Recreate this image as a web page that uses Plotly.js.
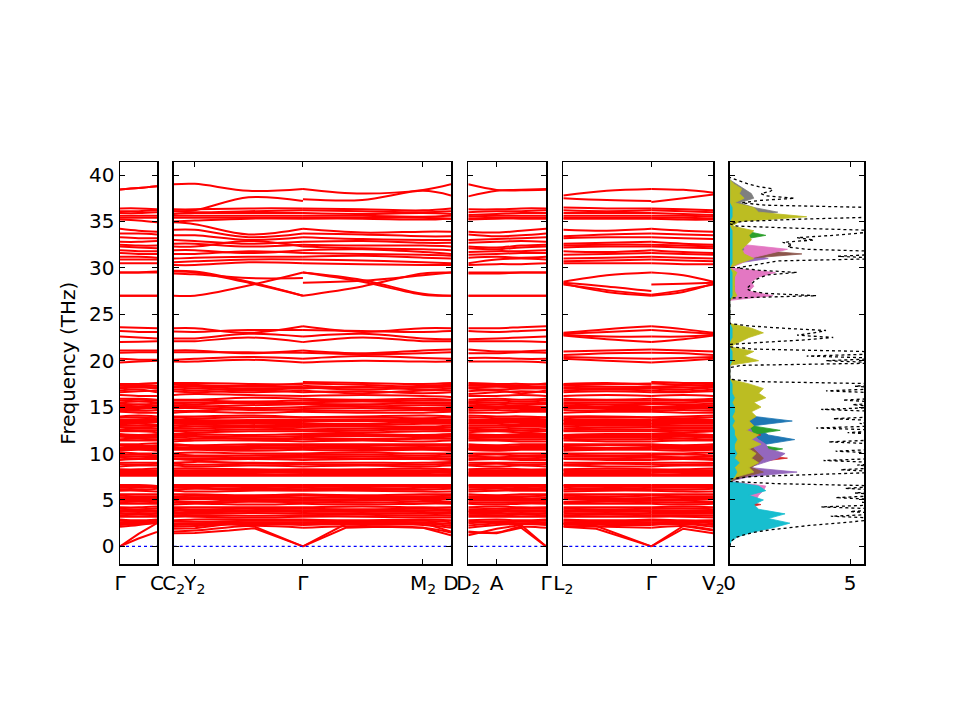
<!DOCTYPE html>
<html><head><meta charset="utf-8">
<script src="https://cdn.plot.ly/plotly-3.0.1.min.js"></script>
<style>html,body{margin:0;padding:0;background:#fff}</style>
</head><body><div id="chart" style="width:960px;height:720px"></div>
<script>
// k-path sample points (normalised path distance within each panel)
const kGC = [0, 0.5, 1];
const kCG = [0, 0.076, 0.27, 0.466];
const kGD = [0.466, 0.68, 0.899, 1];
const kDG = [0, 0.365, 0.68, 1];
const kLG = [0, 0.29, 0.587];
const kGV = [0.587, 0.8, 1];

// tick positions / labels of high-symmetry points
const ticksP1 = [0, 1], labelsP1 = ['Γ', 'C'];
const ticksP2 = [0, 0.076, 0.466, 0.899, 1], labelsP2 = ['C<sub>2</sub>', 'Y<sub>2</sub>', 'Γ', 'M<sub>2</sub>', 'D'];
const ticksP3 = [0, 0.365, 1], labelsP3 = ['D<sub>2</sub>', 'A', 'Γ'];
const ticksP4 = [0, 0.587, 1], labelsP4 = ['L<sub>2</sub>', 'Γ', 'V<sub>2</sub>'];
const freqTicks = [0, 5, 10, 15, 20, 25, 30, 35, 40];
const dosTicks = [0, 5];
const zeroLevel = 0;

// each band row: [Γ,m,C | C2,Y2,m,Γ | Γ,m,M2,D | D2,A,m,Γ | L2,m,Γ | Γ,m,V2]  (THz)
const bandsTop = [
 [38.45,38.6,38.8, 39.0,39.05,38.3,38.5, 38.5,38.0,38.4,39.0, 39.0,38.4,38.35,38.4, 37.8,38.3,38.5, 38.5,38.4,38.1],
 [38.45,38.6,38.8, 36.1,36.2,37.6,37.2, 37.4,37.3,38.3,37.8, 37.7,38.3,38.4,38.5, 37.5,37.3,37.2, 37.1,37.5,37.9]
];
const bands35 = [
 [36.4,36.4,36.3, 36.3,36.3,36.4,36.4, 36.4,36.3,36.2,36.4, 36.3,36.3,36.4,36.4, 36.5,36.4,36.4, 36.4,36.3,36.2],
 [36.1,36.1,36.2, 36.1,36.0,36.1,36.2, 36.2,36.1,36.0,36.1, 36.0,36.1,36.1,36.2, 36.2,36.1,36.2, 36.2,36.1,36.0],
 [35.9,35.9,36.0, 35.8,35.9,35.9,35.9, 35.9,35.8,35.9,35.8, 35.7,35.8,35.9,35.9, 35.9,35.9,35.9, 35.9,35.8,35.7],
 [35.6,35.6,35.6, 35.6,35.6,35.6,35.6, 35.6,35.6,35.5,35.6, 35.5,35.6,35.6,35.6, 35.6,35.6,35.6, 35.6,35.6,35.5],
 [35.4,35.4,35.4, 35.4,35.4,35.4,35.4, 35.4,35.4,35.4,35.3, 35.3,35.4,35.4,35.4, 35.4,35.4,35.4, 35.4,35.4,35.3],
 [35.2,35.1,34.9, 35.0,35.1,35.3,35.3, 35.3,35.3,35.2,35.3, 35.2,35.3,35.3,35.3, 35.3,35.3,35.3, 35.3,35.2,35.2]
];
const bands30 = [
 [34.2,34.0,33.9, 34.9,34.7,33.6,34.2, 34.2,33.8,33.9,33.9, 33.9,33.8,34.0,34.2, 34.1,34.0,34.2, 34.2,34.0,33.9],
 [33.7,33.7,33.6, 34.1,34.1,33.3,33.7, 33.7,33.6,33.4,33.4, 33.6,33.4,33.5,33.7, 33.4,33.6,33.7, 33.7,33.6,33.5],
 [33.3,33.2,33.2, 33.5,33.5,33.0,33.3, 33.3,33.1,33.0,33.0, 33.0,33.1,33.2,33.3, 33.2,33.3,33.3, 33.3,33.2,33.1],
 [32.8,32.8,32.9, 33.0,32.9,32.6,32.8, 32.8,32.9,32.7,32.7, 32.7,32.8,32.9,32.8, 32.6,32.7,32.8, 32.8,32.6,32.5],
 [32.5,32.4,32.4, 32.6,32.6,32.3,32.5, 32.5,32.4,32.4,32.3, 32.3,32.2,32.4,32.5, 32.4,32.5,32.5, 32.5,32.4,32.3],
 [32.3,32.2,32.1, 32.3,32.3,32.9,32.3, 32.3,32.1,32.0,31.9, 32.1,32.0,32.2,32.3, 32.2,32.3,32.3, 32.3,32.2,32.1],
 [31.9,31.8,31.8, 31.9,31.9,31.6,31.9, 31.9,32.0,31.7,31.5, 31.7,31.8,31.8,31.9, 31.8,31.7,31.9, 31.9,31.7,31.6],
 [31.6,31.5,31.5, 31.5,31.5,31.8,31.6, 31.6,31.5,31.4,31.3, 31.4,31.5,31.6,31.6, 31.4,31.5,31.6, 31.6,31.5,31.4],
 [31.2,31.2,31.1, 31.0,31.1,31.2,31.2, 31.2,31.3,31.1,31.0, 31.1,31.2,31.1,31.2, 31.0,31.1,31.2, 31.2,31.1,31.0],
 [30.9,30.9,30.9, 30.6,30.7,30.9,30.9, 30.9,30.8,30.6,30.5, 30.5,30.9,31.0,30.9, 30.7,30.8,30.9, 30.9,30.8,30.7],
 [30.5,30.5,30.5, 30.3,30.3,30.6,30.5, 30.5,30.4,30.3,30.3, 30.3,30.4,30.4,30.5, 30.5,30.5,30.5, 30.5,30.4,30.4]
];
const bands27 = [
 [29.5,29.5,29.5, 29.7,29.6,28.5,27.0, 27.0,28.0,29.4,29.5, 29.5,29.5,29.5,29.5, 28.5,29.2,29.5, 29.5,29.2,28.5],
 [29.5,29.5,29.6, 27.0,27.0,28.1,29.5, 29.5,28.5,27.1,27.0, 29.4,29.4,29.5,29.5, 28.3,27.4,27.0, 27.0,27.4,28.3],
 [27.0,27.0,27.0, 29.4,29.3,28.9,28.9, 28.4,28.6,29.2,29.5, 27.0,27.0,27.0,27.0, 28.4,28.0,27.5, 28.2,28.3,28.4],
 [27.0,27.0,27.0, 29.6,29.5,28.4,27.0, 29.5,28.7,27.2,27.0, 27.0,27.0,27.0,27.0, 28.2,27.6,27.1, 27.1,27.6,28.2]
];
const bands22 = [
 [23.6,23.55,23.5, 23.5,23.5,23.0,23.7, 23.7,23.1,23.5,23.5, 23.5,23.5,23.6,23.7, 23.0,23.4,23.7, 23.7,23.4,23.0],
 [23.2,23.1,23.1, 23.15,23.1,23.3,23.3, 23.3,23.2,23.1,23.2, 23.2,23.1,23.2,23.3, 22.9,23.1,23.3, 23.3,23.1,22.9],
 [22.6,22.5,22.4, 22.4,22.4,22.9,22.6, 22.6,22.9,22.4,22.3, 22.3,22.4,22.5,22.6, 22.8,22.6,22.6, 22.6,22.6,22.8],
 [22.0,22.05,22.1, 22.1,22.1,22.5,22.0, 22.0,22.5,22.1,22.1, 22.1,22.1,22.1,22.0, 22.7,22.3,22.0, 22.0,22.3,22.7]
];
const bands20 = [
 [21.1,21.1,21.1, 21.1,21.1,20.8,21.1, 21.1,20.8,21.1,21.2, 21.2,21.0,21.0,21.1, 21.0,21.1,21.2, 21.2,21.1,21.0],
 [20.85,20.9,20.9, 20.9,20.9,20.9,20.85, 20.85,20.7,20.8,20.9, 20.8,20.8,20.9,20.85, 20.6,20.8,20.85, 20.85,20.8,20.6],
 [20.2,20.1,20.1, 20.1,20.2,20.4,20.2, 20.2,20.5,20.3,20.2, 20.3,20.3,20.2,20.2, 20.4,20.3,20.2, 20.2,20.3,20.4],
 [19.8,19.9,20.0, 19.9,19.9,20.1,19.8, 19.8,20.0,19.9,19.9, 19.9,19.9,19.9,19.8, 20.2,20.0,19.8, 19.8,20.0,20.2]
];
const bandsMid = [
 [17.5,17.5,17.6, 17.6,17.6,17.5,17.4, 17.7,17.6,17.5,17.6, 17.6,17.5,17.5,17.4, 17.5,17.6,17.4, 17.7,17.6,17.6],
 [17.3,17.3,17.3, 17.4,17.3,17.2,17.2, 17.3,17.1,17.3,17.4, 17.3,17.3,17.2,17.2, 17.3,17.2,17.2, 17.2,17.3,17.4],
 [17.0,17.1,17.0, 17.1,17.0,16.9,17.0, 17.0,17.2,16.9,17.0, 17.0,16.9,17.0,17.0, 17.0,17.0,17.0, 17.0,16.9,17.1],
 [16.6,16.7,16.8, 16.7,16.6,16.8,16.6, 16.6,16.7,16.5,16.6, 16.4,16.6,16.7,16.6, 16.6,16.7,16.6, 16.6,16.6,16.7],
 [16.3,16.2,16.2, 16.3,16.4,16.3,16.2, 16.2,16.3,16.2,16.1, 16.2,16.2,16.3,16.2, 16.2,16.3,16.2, 16.2,16.3,16.2],
 [15.9,15.9,15.8, 15.8,15.8,16.0,15.9, 15.9,15.8,15.9,15.8, 15.8,15.9,15.8,15.9, 15.9,15.8,15.9, 15.9,15.8,15.9],
 [15.5,15.6,15.5, 15.5,15.5,15.4,15.5, 15.5,15.6,15.5,15.5, 15.5,15.5,15.4,15.5, 15.5,15.5,15.5, 15.5,15.5,15.6],
 [15.2,15.1,15.2, 15.2,15.1,15.2,15.3, 15.3,15.1,15.2,15.2, 15.2,15.1,15.2,15.3, 15.2,15.1,15.3, 15.3,15.2,15.2],
 [14.8,14.8,14.9, 14.9,14.9,14.7,14.8, 14.8,14.9,14.8,14.8, 14.8,14.9,14.8,14.8, 14.9,14.8,14.8, 14.8,14.9,14.8],
 [14.5,14.4,14.4, 14.4,14.5,14.4,14.5, 14.5,14.4,14.4,14.5, 14.4,14.4,14.5,14.5, 14.4,14.5,14.5, 14.5,14.4,14.4],
 [14.0,14.1,14.0, 14.0,14.0,14.1,13.9, 13.9,14.0,14.1,14.0, 14.1,14.0,14.0,13.9, 14.0,14.0,13.9, 13.9,14.0,14.1],
 [13.6,13.7,13.7, 13.7,13.6,13.6,13.6, 13.6,13.7,13.6,13.7, 13.7,13.6,13.7,13.6, 13.6,13.7,13.6, 13.6,13.7,13.6],
 [13.3,13.3,13.4, 13.4,13.4,13.3,13.3, 13.3,13.2,13.4,13.3, 13.3,13.4,13.3,13.3, 13.3,13.3,13.3, 13.3,13.3,13.4],
 [13.0,13.0,13.0, 13.0,13.1,13.0,13.0, 13.0,13.0,12.9,13.0, 13.0,13.0,13.0,13.0, 13.1,13.0,13.0, 13.0,13.0,13.0],
 [12.6,12.7,12.7, 12.7,12.7,12.8,12.6, 12.6,12.7,12.7,12.6, 12.7,12.6,12.7,12.6, 12.7,12.6,12.6, 12.6,12.7,12.7],
 [12.4,12.4,12.3, 12.4,12.3,12.4,12.4, 12.4,12.3,12.4,12.4, 12.3,12.4,12.3,12.4, 12.4,12.4,12.4, 12.4,12.3,12.4],
 [12.1,12.0,12.1, 12.1,12.1,12.0,12.1, 12.1,12.1,12.0,12.1, 12.1,12.0,12.1,12.1, 12.0,12.1,12.1, 12.1,12.1,12.0],
 [11.8,11.7,11.7, 11.7,11.8,11.6,11.7, 11.7,11.6,11.7,11.8, 11.7,11.7,11.7,11.7, 11.7,11.7,11.7, 11.7,11.8,11.7],
 [11.4,11.4,11.4, 11.3,11.4,11.4,11.3, 11.3,11.4,11.3,11.4, 11.4,11.4,11.3,11.3, 11.4,11.3,11.3, 11.3,11.4,11.4],
 [11.0,11.0,11.1, 11.0,10.9,11.0,11.0, 11.0,11.0,11.0,11.0, 11.0,10.9,11.0,11.0, 11.0,11.0,11.0, 11.0,10.9,11.0],
 [10.6,10.7,10.7, 10.7,10.6,10.6,10.7, 10.7,10.6,10.7,10.6, 10.6,10.7,10.7,10.7, 10.7,10.6,10.7, 10.7,10.7,10.6],
 [10.3,10.4,10.3, 10.4,10.4,10.3,10.4, 10.4,10.3,10.4,10.3, 10.4,10.3,10.4,10.4, 10.3,10.4,10.4, 10.4,10.3,10.4],
 [10.1,10.0,10.0, 10.0,10.1,10.0,10.0, 10.0,10.1,10.0,10.0, 10.0,10.0,10.0,10.0, 10.0,10.0,10.0, 10.0,10.0,10.1],
 [9.7,9.7,9.7, 9.7,9.7,9.6,9.7, 9.7,9.7,9.6,9.7, 9.7,9.6,9.7,9.7, 9.7,9.7,9.7, 9.7,9.6,9.7],
 [9.3,9.4,9.4, 9.4,9.3,9.4,9.3, 9.3,9.4,9.4,9.3, 9.3,9.4,9.3,9.3, 9.4,9.3,9.3, 9.3,9.4,9.3],
 [9.0,9.0,9.0, 9.0,9.1,9.0,9.0, 9.0,9.0,9.0,9.1, 9.0,9.0,9.0,9.0, 9.0,9.0,9.0, 9.0,9.0,9.0],
 [8.6,8.7,8.7, 8.7,8.6,8.7,8.6, 8.6,8.7,8.6,8.7, 8.7,8.6,8.7,8.6, 8.7,8.6,8.6, 8.6,8.7,8.7],
 [8.3,8.3,8.4, 8.4,8.4,8.3,8.3, 8.3,8.3,8.4,8.3, 8.3,8.4,8.3,8.3, 8.3,8.4,8.3, 8.3,8.3,8.4],
 [8.1,8.0,8.1, 8.1,8.0,8.1,8.1, 8.1,8.0,8.1,8.0, 8.0,8.1,8.0,8.1, 8.1,8.0,8.1, 8.1,8.0,8.1],
 [7.8,7.8,7.8, 7.8,7.8,7.7,7.8, 7.8,7.8,7.7,7.8, 7.8,7.7,7.8,7.8, 7.8,7.8,7.8, 7.8,7.7,7.8],
 [7.6,7.6,7.6, 7.6,7.6,7.6,7.6, 7.6,7.6,7.6,7.6, 7.6,7.6,7.6,7.6, 7.6,7.6,7.6, 7.6,7.6,7.6]
];
const bandsMidExtra = [
 [17.45,17.4,17.3, 17.5,17.4,17.3,17.55, 17.55,17.4,17.2,17.3, 17.4,17.4,17.35,17.55, 17.4,17.45,17.55, 17.55,17.4,17.3],
 [17.15,17.2,17.1, 17.2,17.2,17.0,17.1, 17.1,16.9,17.1,17.2, 17.1,17.2,17.1,17.1, 17.1,17.0,17.1, 17.1,17.1,17.2],
 [16.8,16.9,16.6, 16.9,16.8,16.6,16.8, 16.8,16.5,16.8,16.8, 16.7,16.8,16.5,16.8, 16.8,16.9,16.8, 16.8,16.7,16.9],
 [15.7,15.8,15.7, 15.7,15.7,15.6,15.7, 15.7,15.7,15.7,15.7, 15.6,15.7,15.6,15.7, 15.7,15.7,15.7, 15.7,15.7,15.7],
 [15.35,15.3,15.4, 15.35,15.3,15.5,15.35, 15.35,15.3,15.4,15.35, 15.4,15.3,15.4,15.35, 15.35,15.3,15.35, 15.35,15.3,15.4],
 [15.0,15.0,15.0, 15.0,15.1,14.9,15.0, 15.0,15.1,14.9,15.0, 15.0,15.0,15.0,15.0, 15.0,15.0,15.0, 15.0,15.0,15.0],
 [14.65,14.6,14.7, 14.6,14.6,14.8,14.65, 14.65,14.6,14.7,14.6, 14.6,14.7,14.6,14.65, 14.7,14.6,14.65, 14.65,14.7,14.6],
 [13.85,13.9,13.8, 13.9,13.8,13.9,13.85, 13.85,13.9,13.8,13.9, 13.9,13.8,13.8,13.85, 13.8,13.9,13.85, 13.85,13.8,13.9],
 [13.5,13.5,13.5, 13.5,13.5,13.4,13.5, 13.5,13.5,13.5,13.5, 13.5,13.5,13.5,13.5, 13.5,13.5,13.5, 13.5,13.5,13.5],
 [13.15,13.2,13.1, 13.2,13.2,13.2,13.15, 13.15,13.1,13.2,13.2, 13.2,13.2,13.1,13.15, 13.2,13.1,13.15, 13.15,13.2,13.2],
 [12.85,12.8,12.9, 12.8,12.9,12.9,12.85, 12.85,12.9,12.8,12.8, 12.8,12.8,12.9,12.85, 12.9,12.8,12.85, 12.85,12.8,12.8],
 [12.55,12.5,12.5, 12.5,12.5,12.6,12.55, 12.55,12.5,12.6,12.5, 12.5,12.5,12.5,12.55, 12.5,12.6,12.55, 12.55,12.5,12.5],
 [11.9,11.9,11.9, 11.9,11.9,11.8,11.9, 11.9,11.9,11.9,11.9, 11.9,11.9,11.9,11.9, 11.9,11.9,11.9, 11.9,11.9,11.9],
 [11.55,11.6,11.5, 11.5,11.6,11.6,11.55, 11.55,11.5,11.6,11.6, 11.6,11.5,11.5,11.55, 11.6,11.5,11.55, 11.55,11.6,11.5],
 [10.85,10.8,10.9, 10.9,10.8,10.8,10.85, 10.85,10.8,10.9,10.8, 10.8,10.8,10.8,10.85, 10.8,10.9,10.85, 10.85,10.8,10.8],
 [10.5,10.5,10.5, 10.5,10.5,10.5,10.55, 10.55,10.5,10.5,10.5, 10.5,10.5,10.5,10.55, 10.5,10.5,10.55, 10.55,10.5,10.5],
 [9.85,9.9,9.8, 9.9,9.8,9.8,9.85, 9.85,9.9,9.8,9.9, 9.8,9.9,9.8,9.85, 9.9,9.8,9.85, 9.85,9.9,9.8],
 [9.55,9.5,9.6, 9.5,9.5,9.5,9.55, 9.55,9.5,9.5,9.5, 9.5,9.5,9.5,9.55, 9.5,9.5,9.55, 9.55,9.5,9.5],
 [8.85,8.8,8.9, 8.9,8.8,8.9,8.85, 8.85,8.8,8.8,8.9, 8.8,8.9,8.8,8.85, 8.8,8.9,8.85, 8.85,8.8,8.9],
 [8.2,8.2,8.2, 8.2,8.2,8.2,8.2, 8.2,8.2,8.2,8.2, 8.2,8.2,8.2,8.2, 8.2,8.2,8.2, 8.2,8.2,8.2],
 [7.95,7.9,7.9, 7.95,7.9,7.9,7.95, 7.95,7.9,7.9,7.95, 7.9,7.9,7.9,7.95, 7.9,7.9,7.95, 7.95,7.9,7.9],
 [7.7,7.7,7.7, 7.7,7.7,7.7,7.7, 7.7,7.7,7.7,7.7, 7.7,7.7,7.7,7.7, 7.7,7.7,7.7, 7.7,7.7,7.7]
];
const bandsLow = [
 [6.6,6.6,6.5, 6.6,6.6,6.6,6.6, 6.6,6.6,6.6,6.6, 6.6,6.6,6.6,6.6, 6.6,6.6,6.6, 6.6,6.6,6.6],
 [6.3,6.3,6.4, 6.3,6.3,6.2,6.3, 6.3,6.2,6.3,6.4, 6.3,6.3,6.2,6.3, 6.3,6.2,6.3, 6.3,6.3,6.3],
 [6.0,6.0,5.9, 6.0,5.9,6.0,6.0, 6.0,6.0,5.9,5.9, 5.9,6.0,6.0,6.0, 5.9,6.0,6.0, 6.0,5.9,5.9],
 [5.6,5.6,5.6, 5.6,5.6,5.5,5.6, 5.6,5.5,5.6,5.6, 5.6,5.5,5.6,5.6, 5.6,5.6,5.6, 5.6,5.6,5.6],
 [5.3,5.2,5.3, 5.3,5.3,5.3,5.2, 5.2,5.3,5.2,5.3, 5.3,5.3,5.2,5.2, 5.3,5.2,5.2, 5.2,5.3,5.3],
 [4.9,5.0,4.9, 4.9,4.8,5.0,4.9, 4.9,4.9,5.0,4.8, 4.9,4.9,4.9,4.9, 4.8,4.9,4.9, 4.9,4.9,4.8],
 [4.6,4.6,4.6, 4.5,4.6,4.5,4.6, 4.6,4.5,4.6,4.6, 4.6,4.5,4.6,4.6, 4.6,4.6,4.6, 4.6,4.5,4.6],
 [4.2,4.2,4.3, 4.2,4.2,4.2,4.2, 4.2,4.3,4.2,4.2, 4.2,4.3,4.2,4.2, 4.2,4.2,4.2, 4.2,4.3,4.2],
 [3.9,3.9,3.9, 3.9,3.8,3.9,3.9, 3.9,3.8,3.9,3.8, 3.8,3.9,3.9,3.9, 3.9,3.8,3.9, 3.9,3.9,3.9],
 [3.5,3.6,3.5, 3.5,3.5,3.6,3.5, 3.5,3.6,3.5,3.5, 3.5,3.5,3.6,3.5, 3.5,3.6,3.5, 3.5,3.5,3.5],
 [3.2,3.2,3.2, 3.2,3.2,3.1,3.2, 3.2,3.2,3.1,3.1, 3.2,3.2,3.2,3.2, 3.2,3.2,3.2, 3.2,3.2,3.1],
 [2.9,2.8,2.9, 2.8,2.9,2.9,2.9, 2.9,2.8,2.9,2.8, 2.8,2.9,2.8,2.9, 2.9,2.8,2.9, 2.9,2.8,2.8],
 [2.6,2.6,2.7, 2.5,2.5,2.6,2.6, 2.6,2.6,2.6,2.4, 2.5,2.6,2.5,2.6, 2.6,2.6,2.6, 2.6,2.6,2.5],
 [2.3,2.4,2.5, 2.1,2.2,2.4,2.3, 2.3,2.4,2.3,2.0, 2.0,2.3,2.4,2.3, 2.4,2.3,2.3, 2.3,2.4,2.1],
 [2.1,2.3,2.6, 1.6,1.7,2.2,2.0, 2.0,2.2,2.0,1.5, 1.6,1.5,2.1,2.0, 2.2,2.1,2.0, 2.0,2.2,1.8]
];
const bandsLowExtra = [
 [6.45,6.5,6.4, 6.45,6.5,6.4,6.45, 6.45,6.4,6.5,6.5, 6.5,6.45,6.4,6.45, 6.5,6.4,6.45, 6.45,6.5,6.4],
 [6.15,6.1,6.2, 6.1,6.2,6.1,6.15, 6.15,6.1,6.1,6.2, 6.1,6.2,6.1,6.15, 6.1,6.1,6.15, 6.15,6.1,6.2],
 [5.45,5.4,5.4, 5.4,5.45,5.4,5.45, 5.45,5.4,5.4,5.45, 5.4,5.4,5.4,5.45, 5.45,5.4,5.45, 5.45,5.4,5.4],
 [5.1,5.1,5.1, 5.1,5.1,5.1,5.05, 5.05,5.1,5.1,5.1, 5.1,5.1,5.1,5.05, 5.1,5.1,5.05, 5.05,5.1,5.1],
 [4.75,4.8,4.75, 4.7,4.7,4.8,4.75, 4.75,4.7,4.8,4.7, 4.7,4.7,4.75,4.75, 4.7,4.8,4.75, 4.75,4.7,4.7],
 [4.05,4.0,4.1, 4.05,4.0,4.05,4.05, 4.05,4.0,4.05,4.0, 4.0,4.05,4.05,4.05, 4.05,4.0,4.05, 4.05,4.1,4.0],
 [3.7,3.75,3.7, 3.7,3.65,3.75,3.7, 3.7,3.75,3.7,3.65, 3.7,3.7,3.75,3.7, 3.7,3.75,3.7, 3.7,3.7,3.7],
 [3.35,3.4,3.35, 3.35,3.35,3.3,3.35, 3.35,3.4,3.3,3.3, 3.35,3.35,3.4,3.35, 3.35,3.4,3.35, 3.35,3.35,3.3],
 [2.75,2.7,2.8, 2.7,2.65,2.75,2.75, 2.75,2.7,2.75,2.6, 2.65,2.7,2.7,2.75, 2.75,2.7,2.75, 2.75,2.7,2.65],
 [2.45,2.5,2.6, 2.3,2.35,2.5,2.45, 2.45,2.5,2.45,2.2, 2.25,2.45,2.5,2.45, 2.5,2.45,2.45, 2.45,2.5,2.3]
];
// acoustic branches (drawn with straight segments)
const acK1 = [0, 0.5, 1],               acGC = [[0,0.85,1.55],[0,1.35,2.5]];
const acK2a = [0, 0.076, 0.2, 0.29, 0.466], acCG = [[1.4,1.45,1.7,1.95,0],[1.9,1.95,2.4,2.15,0]];
const acK2b = [0.466, 0.62, 0.75, 0.899, 1], acGD = [[0,2.0,2.1,2.0,1.2],[0,2.4,2.5,2.5,1.6]];
const acK3 = [0, 0.365, 0.68, 1],        acDG = [[1.5,1.4,2.0,0],[1.2,1.9,2.3,0]];
const acK4a = [0, 0.22, 0.587],          acLG = [[2.1,1.9,0],[2.4,2.2,0]];
const acK4b = [0.587, 0.8, 1],           acGV = [[0,1.9,1.4],[0,2.2,1.7]];

// total DOS on a 0.25 THz grid
const dosFreqFine = [0,0.25,0.5,0.75,1,1.25,1.5,1.75,2,2.25,2.5,2.75,
 3,3.25,3.5,3.75,4,4.25,4.5,4.75,5,5.25,5.5,5.75, 6,6.25,6.5,6.75, 7,7.25, 7.5,7.75,
 8,8.25,8.5,8.75,9,9.25,9.5,9.75,10,10.25, 10.5,10.75,11,11.25,11.5,11.75,12,12.25,12.5,12.75,
 13,13.25,13.5,13.75,14,14.25,14.5,14.75,15,15.25, 15.5,15.75,16,16.25,16.5,16.75,17,17.25,17.5,17.75,
 18,18.25,18.5,18.75,19,19.25, 19.5,19.75,20,20.25,20.5,20.75,21,21.25, 21.5,21.75,
 22,22.25,22.5,22.75,23,23.25,23.5,23.75, 24,24.25,24.5,24.75,25,25.25,25.5,25.75,26,26.25,26.5,26.75,
 27,27.25,27.5,27.75,28,28.25,28.5,28.75,29,29.25,29.5,29.75,
 30,30.25,30.5,30.75,31,31.25,31.5,31.75,32,32.25,32.5,32.75,33,33.25,33.5,33.75,34,34.25,34.5,34.75,
 35,35.25,35.5,35.75,36,36.25,36.5,36.75, 37,37.25,37.5,37.75,38,38.25,38.5,38.75,39,39.25,39.5,39.75];
const dosTotal = [0,0.02,0.05,0.15,0.3,0.6,1.0,1.6,2.4,3.3,4.5,5.8,
 6.5,4.2,6.5,5.0,6.5,3.8,6.5,5.5,6.5,4.4,6.5,5.2, 6.5,4.8,6.5,2.0, 0,0, 0.8,3.6,
 6.5,4.6,6.5,5.3,6.5,3.9,6.5,6.0,6.5,4.4, 6.5,5.6,6.5,4.1,6.5,6.2,6.5,4.9,6.5,3.6,
 6.5,5.4,6.5,4.3,6.5,6.0,6.5,3.8,6.5,5.1, 6.5,4.7,6.5,6.1,6.5,4.0,6.5,5.2,6.5,1.0,
 0,0,0,0,0,0, 0.5,6.5,4.0,6.5,3.2,6.5,5.5,1.0, 0,0,
 1.5,3.2,4.3,2.8,3.5,4.0,2.2,0.8, 0,0,0,0,0,0,0,0,0,0,0,0,
 3.6,1.5,0.9,0.7,0.8,0.9,1.0,1.1,1.3,1.6,2.8,1.2,
 0.3,0.9,1.5,2.0,6.5,4.5,6.5,6.5,3.2,2.4,2.6,2.2,3.5,2.8,4.3,5.6,6.5,3.0,0.3,0,
 0.5,3.0,6.5,6.5,6.5,6.5,6.0,1.5, 0.5,1.2,2.7,1.5,1.3,1.7,1.8,1.2,0.8,0.5,0.2,0];

// projected DOS on a 0.5 THz grid
const dosFreq = [0,0.5,1,1.5,2,2.5,3,3.5,4,4.5, 5,5.5,6,6.5,7,7.5,8,8.5,9,9.5,
 10,10.5,11,11.5,12,12.5,13,13.5,14,14.5, 15,15.5,16,16.5,17,17.5,18,18.5,19,19.5,
 20,20.5,21,21.5,22,22.5,23,23.5,24,24.5, 25,25.5,26,26.5,27,27.5,28,28.5,29,29.5,
 30,30.5,31,31.5,32,32.5,33,33.5,34,34.5, 35,35.5,36,36.5,37,37.5,38,38.5,39,39.5];
const pdosBlue = [0,0,0.1,0.2,0.3,0.3,0.4,0.3,0.4,0.3, 0.4,0.3,0.3,0.2,0,0.2,0.3,0.4,0.5,0.8,
 1.0,1.2,1.5,2.7,1.6,1.3,1.0,2.6,1.0,0.8, 0.7,0.6,0.5,0.4,0.5,0.3,0,0,0,0,
 0.2,0.1,0.1,0,0.1,0.1,0.1,0.1,0,0, 0,0,0,0,0.1,0.1,0.1,0.1,0.1,0.1,
 0,0.1,0.3,0.4,0.3,0.2,0.3,0.3,0.2,0, 0.1,0.2,0.2,0.2,0.1,0.1,0.1,0.1,0,0];
const pdosRed = [0,0,0,0.1,0.2,0.3,0.4,0.5,0.4,1.3, 0.4,0.3,0.3,0.2,0,0.2,0.3,0.4,0.8,2.4,
 0.9,0.7,0.6,0.5,1.3,0.7,0.5,0.6,0.4,0.5, 0.4,0.3,0.3,0.2,0.3,0.2,0,0,0,0,
 0.1,0.1,0.1,0,0.1,0.1,0.1,0.1,0,0, 0,0,0,0,0.1,0.1,0.1,0.1,0.1,0.1,
 0,0.3,0.4,0.6,0.3,0.2,0.2,0.1,0.1,0, 0,0.1,0.1,0.1,0,0,0,0,0,0];
const pdosGreen = [0,0,0,0.1,0.2,0.2,0.3,0.3,0.3,0.3, 0.3,0.3,0.3,0.2,0,0.2,0.5,0.7,0.8,1.0,
 1.2,2.2,1.0,0.9,0.8,2.1,0.9,0.7,0.6,0.8, 0.6,0.5,0.6,0.5,0.4,0.3,0,0,0,0,
 0.2,0.2,0.2,0,0.1,0.2,0.2,0.2,0,0, 0,0,0,0,0.1,0.1,0.1,0.1,0.1,0.1,
 0,0.3,0.5,0.6,1.0,0.5,0.4,1.5,0.6,0, 0.2,0.4,0.3,0.2,0.1,0.2,0.2,0.1,0.1,0];
const pdosPurple = [0,0,0,0.1,0.3,0.5,0.4,0.6,0.5,0.4, 0.5,0.4,0.6,0.5,0,0.8,2.8,0.8,1.4,2.0,
 2.3,1.6,1.5,1.2,1.0,0.9,0.8,0.6,0.7,0.9, 0.8,0.6,0.5,0.5,0.4,0.3,0,0,0,0,
 0.2,0.2,0.2,0,0.1,0.2,0.2,0.1,0,0, 0,0,0,0,0.2,0.1,0.1,0.1,0.1,0.2,
 0,0.3,1.6,0.8,0.4,0.3,0.2,0.2,0.2,0, 0.1,0.3,0.2,0.2,0.1,0.2,0.1,0.1,0.1,0];
const pdosBrown = [0,0,0,0.1,0.2,0.3,0.3,0.4,0.4,0.3, 0.4,0.3,0.4,0.3,0,0.6,1.4,0.9,1.2,1.4,
 1.2,1.0,0.9,0.8,0.9,0.7,0.6,0.7,0.8,0.6, 0.9,0.7,0.6,0.5,0.5,0.4,0,0,0,0,
 0.2,0.2,0.2,0,0.1,0.2,0.2,0.1,0,0, 0,0,0,0,0.4,0.6,0.6,0.7,0.6,0.4,
 0,0.4,0.7,3.0,0.8,0.5,0.3,0.3,0.2,0, 0.1,0.3,0.3,0.2,0.1,0.1,0.1,0.1,0.1,0];
const pdosPink = [0,0,0,0.1,0.3,0.5,0.9,0.7,1.0,0.9, 1.1,1.2,1.4,1.5,0,0.2,0.4,0.3,0.5,0.4,
 0.6,0.5,0.7,0.5,0.6,0.5,0.4,0.5,0.6,0.4, 0.5,0.6,0.7,0.4,0.5,0.3,0,0,0,0,
 0.3,0.2,0.2,0,0.2,0.3,0.3,0.2,0,0, 0,0,0,0,1.8,0.8,1.0,0.9,1.2,1.9,
 0,0.5,0.8,1.6,2.4,0.6,0.5,0.4,0.3,0, 0.1,0.4,0.3,0.2,0.1,0.1,0.1,0.1,0.1,0];
const pdosGray = [0,0,0,0.1,0.2,0.2,0.3,0.3,0.3,0.2, 0.3,0.3,0.4,0.3,0,0.2,0.5,0.4,0.5,0.4,
 0.5,0.4,0.6,0.5,0.4,0.5,0.4,0.5,0.6,0.4, 0.5,0.4,0.6,0.5,0.5,0.4,0,0,0,0,
 0.2,0.2,0.2,0,0.2,0.3,0.3,0.2,0,0, 0,0,0,0,0.2,0.2,0.2,0.2,0.2,0.2,
 0,0.3,0.5,0.4,0.6,0.4,0.5,0.7,0.6,0, 0.2,0.8,2.0,1.0,0.4,1.0,0.9,0.6,0.3,0];
const pdosOlive = [0,0,0.1,0.3,0.6,0.5,0.8,0.6,1.0,0.7, 0.8,0.6,0.9,0.5,0,0.3,1.0,0.8,1.2,0.9,
 1.1,0.8,1.3,0.9,1.2,0.7,1.0,0.8,1.1,0.9, 1.3,1.0,1.5,1.2,1.4,0.8,0,0,0,0,
 1.2,0.6,1.0,0,0.4,0.8,1.4,0.9,0,0, 0,0,0,0,0.3,0.2,0.2,0.2,0.2,0.3,
 0,0.4,1.0,0.6,0.5,0.7,0.9,0.8,1.0,0.1, 0.4,3.2,1.2,1.0,0.2,0.6,0.4,0.5,0.2,0];
const pdosCyan = [0,0.05,0.3,0.9,1.8,2.5,1.6,2.3,1.2,1.0, 1.4,0.8,1.5,1.2,0,0.2,0.3,0.2,0.4,0.2,
 0.3,0.2,0.2,0.3,0.2,0.2,0.1,0.2,0.1,0.2, 0.2,0.1,0.2,0.1,0.1,0.1,0,0,0,0,
 0.1,0.1,0.1,0,0,0.1,0.1,0.1,0,0, 0,0,0,0,0.1,0.1,0.1,0.1,0.1,0.1,
 0,0.1,0.1,0.1,0.1,0.1,0.1,0.1,0.1,0, 0,0.1,0.1,0.1,0,0,0,0,0,0];

const pdosList = [
 {v: pdosBlue, c: '#1f77b4'}, {v: pdosRed, c: '#d62728'}, {v: pdosGreen, c: '#2ca02c'},
 {v: pdosPurple, c: '#9467bd'}, {v: pdosBrown, c: '#8c564b'}, {v: pdosPink, c: '#e377c2'},
 {v: pdosGray, c: '#7f7f7f'}, {v: pdosOlive, c: '#bcbd22'}, {v: pdosCyan, c: '#17becf'}
];

const allBands = [].concat(bandsLow, bandsLowExtra, bandsMid, bandsMidExtra, bands20, bands22, bands27, bands30, bands35, bandsTop);
const segs = [
 {k: kGC, xa: 'x',  ya: 'y',  from: 0,  to: 3},
 {k: kCG, xa: 'x2', ya: 'y2', from: 3,  to: 7},
 {k: kGD, xa: 'x2', ya: 'y2', from: 7,  to: 11},
 {k: kDG, xa: 'x3', ya: 'y3', from: 11, to: 15},
 {k: kLG, xa: 'x4', ya: 'y4', from: 15, to: 18},
 {k: kGV, xa: 'x4', ya: 'y4', from: 18, to: 21}
];
const RED = '#ff0000';
const LW = 2.0;
const traces = [];
segs.forEach(s => {
  const X = [], Y = [];
  allBands.forEach(b => {
    const v = b.slice(s.from, s.to);
    s.k.forEach((kk, i) => { X.push(kk); Y.push(v[i]); });
    X.push(null); Y.push(null);
  });
  traces.push({x: X, y: Y, xaxis: s.xa, yaxis: s.ya, mode: 'lines',
    line: {color: RED, width: LW, shape: 'spline', smoothing: 1}, hoverinfo: 'skip', showlegend: false});
});
const acSegs = [
 {k: acK1, b: acGC, xa: 'x', ya: 'y'}, {k: acK2a, b: acCG, xa: 'x2', ya: 'y2'},
 {k: acK2b, b: acGD, xa: 'x2', ya: 'y2'}, {k: acK3, b: acDG, xa: 'x3', ya: 'y3'},
 {k: acK4a, b: acLG, xa: 'x4', ya: 'y4'}, {k: acK4b, b: acGV, xa: 'x4', ya: 'y4'}
];
acSegs.forEach(s => {
  const X = [], Y = [];
  s.b.forEach(v => { s.k.forEach((kk, i) => { X.push(kk); Y.push(v[i]); }); X.push(null); Y.push(null); });
  traces.push({x: X, y: Y, xaxis: s.xa, yaxis: s.ya, mode: 'lines',
    line: {color: RED, width: LW}, hoverinfo: 'skip', showlegend: false});
});
[['x','y'],['x2','y2'],['x3','y3'],['x4','y4']].forEach(p => {
  traces.push({x: [0, 1], y: [zeroLevel, zeroLevel], xaxis: p[0], yaxis: p[1], mode: 'lines',
    line: {color: '#0000ff', width: 1.4, dash: 'dot'}, hoverinfo: 'skip', showlegend: false});
});
pdosList.forEach(p => {
  traces.push({x: p.v, y: dosFreq, xaxis: 'x5', yaxis: 'y5', mode: 'lines', fill: 'tozerox',
    fillcolor: p.c, line: {color: p.c, width: 0.8}, hoverinfo: 'skip', showlegend: false});
});
traces.push({x: dosTotal, y: dosFreqFine, xaxis: 'x5', yaxis: 'y5', mode: 'lines',
  line: {color: '#000000', width: 1.3, dash: 'dot'}, hoverinfo: 'skip', showlegend: false});

const FS = 20;
const yDom = [1 - 564/720, 1 - 162.3/720];
const yRange = [-1.9, 41.37];
function xAx(dom, tv, tt, anchor, range) {
  return {domain: dom, range: range || [0, 1], tickmode: 'array', tickvals: tv, ticktext: tt,
    tickangle: 0, ticks: 'inside', ticklen: 5, tickwidth: 1, tickcolor: '#000', showline: true, linecolor: '#000',
    linewidth: 1.5, mirror: 'ticks', showgrid: false, zeroline: false, anchor: anchor,
    tickfont: {size: FS, color: '#000'}, fixedrange: true};
}
function yAx(anchor, labels) {
  return {domain: yDom, range: yRange, tickmode: 'array', tickvals: freqTicks,
    ticks: 'inside', ticklen: 5, tickwidth: 1, tickcolor: '#000', showline: true, linecolor: '#000',
    linewidth: 1.5, mirror: 'ticks', showgrid: false, zeroline: false, anchor: anchor,
    showticklabels: labels, tickfont: {size: FS, color: '#000'}, fixedrange: true};
}
const layout = {
  width: 960, height: 720, margin: {l: 0, r: 0, t: 0, b: 0},
  paper_bgcolor: '#fff', plot_bgcolor: '#fff',
  font: {family: 'DejaVu Sans, sans-serif', size: FS, color: '#000'},
  showlegend: false,
  xaxis:  xAx([120/960, 157/960], ticksP1, labelsP1, 'y'),
  xaxis2: xAx([173.7/960, 451/960], ticksP2, labelsP2, 'y2'),
  xaxis3: xAx([468.3/960, 546/960], ticksP3, labelsP3, 'y3'),
  xaxis4: xAx([563.3/960, 713.3/960], ticksP4, labelsP4, 'y4'),
  xaxis5: xAx([729.7/960, 864/960], dosTicks, ['0', '5'], 'y5', [0, 5.58]),
  yaxis:  Object.assign(yAx('x', true), {title: {text: 'Frequency (THz)', font: {size: FS}, standoff: 8}}),
  yaxis2: yAx('x2', false),
  yaxis3: yAx('x3', false),
  yaxis4: yAx('x4', false),
  yaxis5: yAx('x5', false)
};
Plotly.newPlot('chart', traces, layout, {staticPlot: true, displayModeBar: false});
</script></body></html>
